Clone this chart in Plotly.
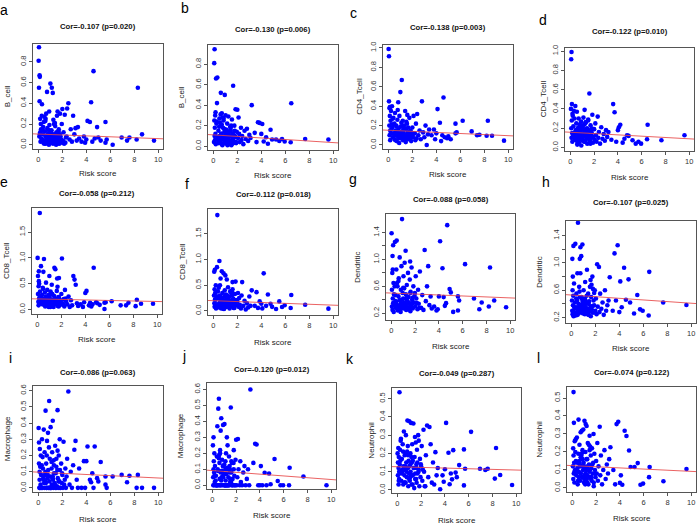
import plotly.graph_objects as go

W, H = 697, 524

# ---------------- data ----------------
# risk scores, training cohort (panels a, c, e, g, i, k)
risk_train = [
    0.02, 0.05, 0.05, 0.08, 0.1, 0.1, 0.12, 0.15, 0.15, 0.18, 0.2, 0.22,
    0.3, 0.33, 0.38, 0.42, 0.45, 0.5, 0.52, 0.55, 0.6, 0.62, 0.65, 0.7, 0.72, 0.75, 0.8, 0.82, 0.85, 0.9, 0.92, 0.95, 0.98,
    1.0, 1.02, 1.05, 1.1, 1.12, 1.15, 1.2, 1.22, 1.25, 1.3, 1.35, 1.4, 1.42, 1.45, 1.5, 1.55, 1.6, 1.62, 1.65, 1.7, 1.75, 1.8, 1.85, 1.9, 1.95,
    2.0, 2.05, 2.1, 2.2, 2.25, 2.3, 2.4, 2.5, 2.6, 2.7, 2.8, 2.9, 3.0, 3.1, 3.2, 3.3, 3.4,
    3.6, 3.8, 3.9, 4.0, 4.1, 4.3, 4.4, 4.5, 4.6, 4.7, 4.9, 5.0, 5.2, 5.6, 5.6, 5.7, 6.2, 6.95, 7.4, 7.6, 8.2, 8.3, 8.65, 9.65,
    0.4, 0.7, 1.0, 1.3, 1.5, 1.8, 0.6, 1.1, 0.9, 1.2, 1.6,
    0.25, 0.35, 0.48, 0.58, 0.68, 0.78, 0.88, 1.08, 1.18, 1.28, 1.38, 1.48, 1.58, 1.68, 1.78, 0.12, 0.28, 2.15, 2.35, 1.98,
]
# risk scores, validation cohort (panels b, d, f, h, j, l)
risk_test = [
    0.05, 0.07, 0.08, 0.1, 0.1, 0.12, 0.13, 0.15, 0.17, 0.2, 0.22, 0.25,
    0.3, 0.33, 0.38, 0.42, 0.45, 0.5, 0.52, 0.55, 0.6, 0.62, 0.65, 0.7, 0.72, 0.75, 0.8, 0.82, 0.85, 0.9, 0.92, 0.95, 0.98,
    1.0, 1.02, 1.05, 1.1, 1.12, 1.15, 1.2, 1.22, 1.25, 1.3, 1.35, 1.4, 1.42, 1.45, 1.5, 1.55, 1.6, 1.62, 1.65, 1.7, 1.75, 1.8, 1.85, 1.9, 1.95,
    2.0, 2.05, 2.1, 2.15, 2.2, 2.3, 2.35, 2.4, 2.5, 2.6, 2.7, 2.8, 2.9, 3.0, 3.1,
    3.2, 3.45, 3.6, 3.72, 3.86, 4.0, 4.08, 4.2, 4.4, 4.55, 4.77, 4.9, 5.23, 5.5, 5.73, 5.95, 6.45, 6.5, 7.66, 9.6,
    0.4, 0.7, 1.0, 1.3, 1.5, 1.8, 0.6, 1.1, 0.9, 1.2, 1.6, 0.28, 0.35, 0.48, 0.58, 0.68, 0.78, 0.88, 1.08, 1.18, 1.28,
    1.38, 1.48, 1.58, 1.68, 1.78, 0.18, 0.4, 0.55, 0.75, 1.05, 1.25, 1.45, 1.9, 0.65, 0.85, 1.15,
]

b_cell_train = [
    0.81, 0.94, 0.55, 0.08, 0.67, 0.42, 0.655, 0.25, 0.12, 0.03, 0.2, 0.15,
    0.39, 0.05, 0.1, 0.02, 0.22, 0.27, 0.04, 0.13, 0.08, 0.01, 0.3, 0.06, 0.51, 0.16, 0.02, 0.11, 0.05, 0.32, 0.19, 0.07, 0.03,
    0.59, 0.09, 0.02, 0.14, 0.55, 0.05, 0.5, 0.01, 0.24, 0.1, 0.04, 0.18, 0.07, 0.02, 0.12, 0.28, 0.32, 0.06, 0.03, 0.15, 0.01, 0.3, 0.08, 0.05, 0.2,
    0.345, 0.04, 0.12, 0.29, 0.02, 0.07, 0.35, 0.4, 0.05, 0.15, 0.03, 0.28, 0.1, 0.16, 0.04, 0.17, 0.06,
    0.03, 0.08, 0.02, 0.05, 0.23, 0.22, 0.41, 0.03, 0.71, 0.06, 0.17, 0.07, 0.04, 0.22, 0.02, 0.05, 0.0, 0.07, 0.04, 0.07, 0.05, 0.55, 0.1, 0.04,
    0.17, 0.09, 0.04, 0.2, 0.03, 0.1, 0.25, 0.02, 0.14, 0.07, 0.01,
    0.06, 0.14, 0.01, 0.23, 0.04, 0.09, 0.0, 0.11, 0.03, 0.06, 0.21, 0.0, 0.09, 0.13, 0.04, 0.1, 0.28, 0.01, 0.08, 0.02,
]
b_cell_test = [
    0.04, 0.81, 0.25, 0.1, 0.946, 0.18, 0.06, 0.3, 0.12, 0.02, 0.66, 0.22,
    0.42, 0.67, 0.08, 0.15, 0.03, 0.27, 0.1, 0.05, 0.2, 0.52, 0.12, 0.32, 0.07, 0.01, 0.18, 0.09, 0.25, 0.04, 0.14, 0.5, 0.06,
    0.11, 0.3, 0.03, 0.16, 0.08, 0.22, 0.02, 0.13, 0.29, 0.06, 0.1, 0.19, 0.04, 0.15, 0.01, 0.26, 0.07, 0.12, 0.59, 0.05, 0.2, 0.09, 0.36, 0.03, 0.14,
    0.356, 0.08, 0.28, 0.12, 0.04, 0.18, 0.06, 0.1, 0.02, 0.15, 0.07, 0.17, 0.05, 0.11, 0.08,
    0.4, 0.13, 0.04, 0.233, 0.227, 0.12, 0.217, 0.045, 0.087, 0.023, 0.16, 0.065, 0.065, 0.05, 0.07, 0.045, 0.039, 0.418, 0.07, 0.065,
    0.09, 0.21, 0.05, 0.14, 0.02, 0.1, 0.31, 0.07, 0.17, 0.04, 0.12, 0.24, 0.06, 0.19, 0.03, 0.11, 0.28, 0.08, 0.16, 0.01,
    0.13, 0.05, 0.2, 0.09, 0.03, 0.15, 0.33, 0.07, 0.23, 0.02, 0.1, 0.06, 0.18, 0.04, 0.12, 0.27, 0.08,
]
cd4_train = [
    0.99, 0.915, 0.45, 0.2, 0.38, 0.1, 0.3, 0.15, 0.05, 0.25, 0.12, 0.35,
    0.4, 0.18, 0.08, 0.28, 0.12, 0.22, 0.06, 0.33, 0.15, 0.1, 0.2, 0.04, 0.14, 0.26, 0.09, 0.44, 0.17, 0.11, 0.3, 0.07, 0.13,
    0.545, 0.1, 0.19, 0.07, 0.67, 0.14, 0.25, 0.05, 0.12, 0.2, 0.09, 0.35, 0.16, 0.03, 0.11, 0.22, 0.08, 0.13, 0.18, 0.06, 0.28, 0.1, 0.15, 0.04, 0.12,
    0.18, 0.08, 0.3, 0.12, 0.05, 0.22, 0.32, 0.1, 0.15, 0.06, 0.45, 0.13, 0.08, 0.2, 0.0, 0.11, 0.16,
    0.1, 0.16, 0.06, 0.12, 0.37, 0.23, 0.04, 0.1, 0.49, 0.08, 0.07, 0.09, 0.06, 0.22, 0.12, 0.13, 0.25, 0.14, 0.1, 0.105, 0.095, 0.25, 0.095, 0.045,
    0.21, 0.13, 0.09, 0.17, 0.24, 0.07, 0.11, 0.19, 0.02, 0.14, 0.1,
    0.16, 0.27, 0.11, 0.05, 0.19, 0.36, 0.08, 0.23, 0.13, 0.1, 0.06, 0.17, 0.31, 0.09, 0.14, 0.39, 0.21, 0.12, 0.07, 0.1,
]
cd4_test = [
    0.4, 0.915, 0.2, 0.99, 0.1, 0.28, 0.45, 0.15, 0.06, 0.33, 0.12, 0.22,
    0.38, 0.14, 0.08, 0.43, 0.18, 0.25, 0.11, 0.37, 0.07, 0.2, 0.13, 0.3, 0.05, 0.16, 0.24, 0.09, 0.12, 0.27, 0.02, 0.19, 0.1,
    0.14, 0.22, 0.08, 0.31, 0.12, 0.18, 0.39, 0.06, 0.15, 0.26, 0.1, 0.2, 0.04, 0.13, 0.29, 0.09, 0.56, 0.17, 0.07, 0.23, 0.12, 0.15, 0.34, 0.05, 0.11,
    0.19, 0.08, 0.25, 0.13, 0.06, 0.32, 0.1, 0.16, 0.04, 0.21, 0.09, 0.14, 0.07, 0.18, 0.11,
    0.16, 0.08, 0.45, 0.366, 0.06, 0.18, 0.21, 0.236, 0.05, 0.09, 0.127, 0.12, 0.075, 0.04, 0.06, 0.04, 0.085, 0.236, 0.075, 0.127,
    0.13, 0.21, 0.07, 0.16, 0.28, 0.1, 0.05, 0.19, 0.12, 0.24, 0.08, 0.15, 0.3, 0.11, 0.03, 0.17, 0.09, 0.22, 0.14, 0.06,
    0.26, 0.1, 0.18, 0.12, 0.04, 0.2, 0.35, 0.08, 0.15, 0.11, 0.23, 0.07, 0.13, 0.19, 0.09, 0.16, 0.12,
]
cd8_train = [
    1.0, 0.3, 0.65, 0.15, 0.45, 0.08, 0.74, 0.22, 0.5, 0.12, 1.87, 0.35,
    0.84, 0.18, 0.28, 0.1, 0.42, 0.73, 0.2, 0.98, 0.14, 0.33, 0.06, 0.25, 0.52, 0.16, 0.09, 0.38, 0.21, 0.12, 0.28, 0.05, 0.17,
    0.65, 0.22, 0.1, 0.35, 0.15, 0.08, 0.48, 0.19, 0.3, 0.12, 0.05, 0.26, 0.81, 0.14, 0.78, 0.2, 0.1, 0.36, 0.6, 0.07, 0.24, 0.61, 0.15, 0.09, 0.18,
    0.3, 0.99, 0.12, 0.2, 0.06, 0.38, 0.15, 0.1, 0.25, 0.05, 0.18, 0.08, 0.65, 0.58, 0.48, 0.12, 0.07,
    0.1, 0.05, 0.14, 0.32, 0.36, 0.08, 0.13, 0.06, 0.1, 0.81, 0.14, 0.12, 0.09, 0.13, 0.01, 0.14, 0.16, 0.08, 0.08, 0.13, 0.065, 0.19, 0.11, 0.11,
    0.2, 0.13, 0.27, 0.09, 0.16, 0.23, 0.11, 0.31, 0.07, 0.19, 0.14,
    0.25, 0.11, 0.4, 0.17, 0.08, 0.22, 0.14, 0.05, 0.29, 0.16, 0.1, 0.2, 0.13, 0.44, 0.06, 0.55, 0.18, 0.09, 0.21, 0.12,
]
cd8_test = [
    0.3, 0.76, 0.15, 0.42, 0.08, 0.8, 0.22, 0.35, 0.12, 0.5, 0.05, 0.28,
    0.85, 1.86, 0.38, 0.1, 0.45, 0.97, 0.16, 0.3, 0.63, 0.08, 0.24, 0.77, 0.14, 0.35, 0.05, 0.2, 0.73, 0.12, 0.28, 0.4, 0.1,
    0.69, 0.18, 0.32, 0.08, 0.61, 0.22, 0.14, 0.46, 0.1, 0.27, 0.05, 0.38, 0.16, 0.2, 0.12, 0.3, 0.56, 0.09, 0.24, 0.15, 0.06, 0.33, 0.57, 0.11, 0.2,
    0.18, 0.35, 0.08, 0.25, 0.12, 0.05, 0.3, 0.56, 0.1, 0.2, 0.03, 0.15, 0.07, 0.28, 0.1,
    0.4, 0.1, 0.365, 0.06, 0.186, 0.14, 0.05, 0.73, 0.1, 0.32, 0.14, 0.08, 0.04, 0.186, 0.077, 0.11, 0.058, 0.31, 0.12, 0.045,
    0.25, 0.12, 0.2, 0.08, 0.34, 0.16, 0.1, 0.22, 0.05, 0.18, 0.42, 0.13, 0.28, 0.07, 0.19, 0.11, 0.25, 0.04, 0.16, 0.3,
    0.09, 0.2, 0.14, 0.36, 0.06, 0.18, 0.22, 0.12, 0.5, 0.08, 0.15, 0.27, 0.1, 0.21, 0.05, 0.17, 0.13,
]
dendritic_train = [
    1.39, 0.55, 0.3, 0.8, 0.25, 1.05, 0.42, 1.21, 0.35, 0.65, 0.22, 0.48,
    1.26, 0.38, 0.28, 0.85, 1.28, 0.32, 0.6, 0.24, 0.45, 0.72, 0.3, 1.03, 0.4, 0.26, 0.55, 0.35, 0.9, 1.6, 0.28, 0.5, 0.33,
    0.42, 0.75, 0.27, 0.36, 0.95, 0.3, 1.13, 0.48, 0.25, 0.62, 0.38, 0.8, 0.29, 0.44, 0.34, 0.7, 0.23, 0.52, 0.31, 0.88, 0.4, 0.27, 0.6, 0.36, 0.46,
    0.3, 0.75, 0.42, 0.26, 0.55, 0.34, 0.82, 0.28, 0.47, 0.25, 1.14, 0.38, 0.6, 0.9, 0.32, 0.45, 0.27,
    0.3, 0.24, 0.26, 0.45, 1.27, 0.87, 0.44, 0.31, 0.35, 1.51, 0.56, 0.51, 0.22, 0.45, 0.24, 0.39, 0.93, 0.42, 0.26, 0.36, 0.3, 0.88, 0.39, 0.29,
    0.37, 0.31, 0.58, 0.43, 0.26, 0.35, 0.68, 0.29, 0.4, 0.33, 0.5,
    0.33, 0.47, 0.65, 0.29, 0.39, 0.22, 0.34, 0.57, 0.32, 0.41, 0.28, 0.36, 0.97, 0.3, 0.43, 0.85, 0.6, 0.35, 0.28, 0.5,
]
dendritic_test = [
    0.45, 0.3, 1.06, 0.6, 0.25, 0.8, 0.38, 0.52, 1.25, 0.28, 0.7, 0.35,
    0.42, 1.28, 0.27, 0.55, 0.33, 0.85, 0.24, 1.59, 0.4, 0.3, 0.65, 1.06, 0.36, 1.23, 0.28, 1.1, 0.5, 0.32, 1.27, 0.44, 0.26,
    0.38, 0.6, 0.3, 0.48, 0.25, 0.72, 0.35, 0.42, 0.28, 0.9, 0.33, 0.55, 0.24, 0.4, 0.3, 0.65, 0.36, 0.22, 0.5, 0.32, 0.8, 0.27, 0.45, 0.38, 0.6,
    0.3, 0.48, 0.25, 0.98, 0.36, 0.94, 0.28, 0.55, 0.33, 0.42, 0.24, 0.6, 0.3, 0.38, 0.45,
    0.79, 0.3, 1.14, 0.45, 1.26, 0.28, 0.73, 0.35, 0.93, 0.46, 0.76, 0.42, 0.26, 0.53, 0.32, 0.3, 0.23, 0.87, 0.42, 0.385,
    0.35, 0.5, 0.28, 0.42, 0.32, 0.62, 0.26, 0.38, 0.47, 0.3, 0.75, 0.34, 0.23, 0.45, 0.29, 0.58, 0.36, 0.27, 0.4, 0.33,
    0.52, 0.25, 0.44, 0.31, 0.68, 0.37, 0.22, 0.48, 0.3, 0.85, 0.35, 0.41, 0.27, 0.56, 0.32, 0.39, 0.46,
]
macrophage_train = [
    0.37, 0.15, 0.28, 0.0, 0.1, 0.05, 0.24, 0.0, 0.13, 0.02, 0.2, 0.08,
    0.3, 0.0, 0.12, 0.05, 0.36, 0.0, 0.22, 0.08, 0.477, 0.03, 0.15, 0.0, 0.29, 0.06, 0.34, 0.11, 0.0, 0.537, 0.04, 0.18, 0.0,
    0.07, 0.375, 0.0, 0.12, 0.02, 0.22, 0.415, 0.05, 0.0, 0.14, 0.03, 0.26, 0.0, 0.09, 0.18, 0.01, 0.48, 0.06, 0.0, 0.2, 0.04, 0.11, 0.0, 0.15, 0.03,
    0.08, 0.0, 0.285, 0.05, 0.12, 0.0, 0.18, 0.595, 0.02, 0.1, 0.0, 0.14, 0.235, 0.29, 0.05, 0.0, 0.12,
    0.0, 0.165, 0.0, 0.165, 0.256, 0.05, 0.035, 0.09, 0.0, 0.256, 0.06, 0.04, 0.16, 0.07, 0.02, 0.0, 0.07, 0.08, 0.035, 0.075, 0.0, 0.08, 0.0, 0.0,
    0.06, 0.2, 0.0, 0.09, 0.13, 0.0, 0.04, 0.16, 0.0, 0.07, 0.23,
    0.0, 0.19, 0.03, 0.1, 0.0, 0.08, 0.25, 0.0, 0.06, 0.17, 0.02, 0.0, 0.11, 0.04, 0.3, 0.0, 0.14, 0.02, 0.07, 0.09,
]
macrophage_test = [
    0.25, 0.05, 0.0, 0.3, 0.1, 0.15, 0.0, 0.08, 0.2, 0.02, 0.12, 0.0,
    0.06, 0.0, 0.18, 0.37, 0.1, 0.48, 0.0, 0.542, 0.14, 0.04, 0.22, 0.342, 0.0, 0.42, 0.09, 0.16, 0.0, 0.377, 0.05, 0.12, 0.0,
    0.07, 0.383, 0.0, 0.15, 0.03, 0.2, 0.0, 0.3, 0.1, 0.0, 0.05, 0.18, 0.0, 0.12, 0.02, 0.487, 0.08, 0.0, 0.14, 0.04, 0.0, 0.1, 0.06, 0.0, 0.16,
    0.285, 0.0, 0.05, 0.29, 0.1, 0.0, 0.15, 0.02, 0.0, 0.08, 0.12, 0.0, 0.04, 0.1, 0.0,
    0.6, 0.14, 0.26, 0.255, 0.0, 0.0, 0.12, 0.0, 0.078, 0.0, 0.074, 0.006, 0.165, 0.027, 0.0, 0.0, 0.0, 0.11, 0.055, 0.0,
    0.0, 0.08, 0.13, 0.0, 0.04, 0.22, 0.0, 0.1, 0.06, 0.0, 0.15, 0.03, 0.0, 0.09, 0.19, 0.0, 0.05, 0.12, 0.0, 0.07,
    0.25, 0.0, 0.1, 0.02, 0.0, 0.14, 0.06, 0.0, 0.17, 0.03, 0.0, 0.11, 0.08, 0.0, 0.2, 0.05, 0.0,
]
neutrophil_train = [
    0.2, 0.08, 0.15, 0.23, 0.03, 0.12, 0.18, 0.06, 0.1, 0.535, 0.14, 0.22,
    0.28, 0.05, 0.17, 0.1, 0.25, 0.03, 0.13, 0.32, 0.08, 0.19, 0.11, 0.04, 0.3, 0.15, 0.07, 0.21, 0.38, 0.12, 0.02, 0.16, 0.09,
    0.376, 0.13, 0.05, 0.2, 0.1, 0.367, 0.03, 0.15, 0.25, 0.08, 0.364, 0.12, 0.01, 0.18, 0.06, 0.26, 0.14, 0.04, 0.22, 0.09, 0.3, 0.11, 0.02, 0.17, 0.07,
    0.13, 0.24, 0.05, 0.33, 0.1, 0.02, 0.19, 0.353, 0.07, 0.345, 0.25, 0.04, 0.15, 0.03, 0.207, 0.08, 0.12,
    0.004, 0.08, 0.045, 0.113, 0.367, 0.204, 0.031, 0.09, 0.058, 0.218, 0.095, 0.07, 0.136, 0.222, 0.025, 0.116, 0.318, 0.116, 0.109, 0.116, 0.062, 0.23, 0.082, 0.027,
    0.11, 0.2, 0.06, 0.16, 0.09, 0.27, 0.04, 0.14, 0.19, 0.08, 0.12,
    0.16, 0.09, 0.21, 0.04, 0.13, 0.1, 0.24, 0.07, 0.18, 0.03, 0.12, 0.29, 0.06, 0.15, 0.1, 0.05, 0.27, 0.11, 0.02, 0.14,
]
neutrophil_test = [
    0.12, 0.22, 0.05, 0.18, 0.533, 0.08, 0.362, 0.14, 0.03, 0.26, 0.1, 0.2,
    0.15, 0.07, 0.28, 0.11, 0.02, 0.19, 0.38, 0.09, 0.24, 0.13, 0.04, 0.31, 0.08, 0.17, 0.318, 0.06, 0.21, 0.1, 0.325, 0.14, 0.03,
    0.12, 0.373, 0.07, 0.2, 0.355, 0.1, 0.344, 0.05, 0.16, 0.25, 0.02, 0.13, 0.09, 0.29, 0.06, 0.18, 0.11, 0.04, 0.22, 0.08, 0.14, 0.01, 0.19, 0.1, 0.06,
    0.15, 0.08, 0.25, 0.04, 0.12, 0.34, 0.07, 0.18, 0.02, 0.1, 0.21, 0.05, 0.13, 0.08, 0.16,
    0.226, 0.1, 0.02, 0.355, 0.368, 0.028, 0.07, 0.018, 0.318, 0.289, 0.208, 0.116, 0.116, 0.138, 0.018, 0.024, 0.06, 0.116, 0.037, 0.105,
    0.09, 0.17, 0.05, 0.12, 0.23, 0.03, 0.14, 0.08, 0.2, 0.11, 0.06, 0.27, 0.1, 0.04, 0.15, 0.08, 0.19, 0.12, 0.02, 0.16,
    0.07, 0.24, 0.1, 0.05, 0.13, 0.3, 0.09, 0.14, 0.06, 0.18, 0.11, 0.03, 0.21, 0.08, 0.12, 0.16, 0.07,
]

panel_letters = ["a", "b", "c", "d", "e", "f", "g", "h", "i", "j", "k", "l"]
cell_labels = ["B_cell", "B_cell", "CD4_Tcell", "CD4_Tcell", "CD8_Tcell", "CD8_Tcell",
               "Dendritic", "Dendritic", "Macrophage", "Macrophage", "Neutrophil", "Neutrophil"]
cor_values = ["-0.107", "-0.130", "-0.138", "-0.122", "-0.058", "-0.112",
              "-0.088", "-0.107", "-0.086", "-0.120", "-0.049", "-0.074"]
p_values = ["0.020", "0.006", "0.003", "0.010", "0.212", "0.018",
            "0.058", "0.025", "0.063", "0.012", "0.287", "0.122"]
# regression line (intercept, slope)
fit_intercept = [0.103, 0.11, 0.152, 0.158, 0.205, 0.2, 0.50, 0.53, 0.097, 0.092, 0.127, 0.124]
fit_slope = [-0.0044, -0.0075, -0.0056, -0.0068, -0.005, -0.0087, -0.0072, -0.012, -0.0036, -0.0056, -0.0018, -0.0032]
x_ticks = [0, 2, 4, 6, 8, 10]

xs_all = [risk_train, risk_test] * 6
ys_all = [b_cell_train, b_cell_test, cd4_train, cd4_test, cd8_train, cd8_test,
          dendritic_train, dendritic_test, macrophage_train, macrophage_test,
          neutrophil_train, neutrophil_test]

# ---------------- layout (pixel geometry) ----------------
boxes = [  # left, right, top, bottom in pixels
    (33, 163, 41, 147), (208, 338, 42, 148), (383, 513, 42, 147), (565, 694, 45, 149),
    (32, 162, 207, 313), (208, 338, 208, 314), (386, 515, 213, 319), (566, 696, 220, 322),
    (33, 163, 386, 493), (207, 336, 383, 490), (392, 521, 388, 494), (567, 696, 387, 493),
]
yranges = [(-0.04, 0.975), (-0.036, 0.99), (-0.04, 1.034), (-0.035, 1.035),
           (-0.08, 1.96), (-0.07, 1.97), (0.106, 1.67), (0.127, 1.61),
           (-0.027, 0.629), (-0.025, 0.64), (-0.018, 0.558), (-0.024, 0.561)]
tick_sets = {
    "b": ([0, 0.2, 0.4, 0.6, 0.8], ["0.0", "0.2", "0.4", "0.6", "0.8"]),
    "c": ([0, 0.2, 0.4, 0.6, 0.8, 1.0], ["0.0", "0.2", "0.4", "0.6", "0.8", "1.0"]),
    "e": ([0, 0.5, 1.0, 1.5], ["0.0", "0.5", "1.0", "1.5"]),
    "g": ([0.2, 0.4, 0.6, 0.8, 1.0, 1.2, 1.4], ["0.2", "", "0.6", "", "1.0", "", "1.4"]),
    "i": ([0, 0.1, 0.2, 0.3, 0.4, 0.5, 0.6], ["0.0", "0.1", "0.2", "0.3", "0.4", "0.5", "0.6"]),
    "k": ([0, 0.1, 0.2, 0.3, 0.4, 0.5], ["0.0", "0.1", "0.2", "0.3", "0.4", "0.5"]),
}
tick_keys = ["b", "b", "c", "c", "e", "e", "g", "g", "i", "i", "k", "k"]
title_y = [24, 27, 25, 29, 192, 193, 198, 201, 372, 369, 373, 372]
xlabel_y = [172, 174, 173, 176, 339, 342, 346, 348, 520, 516, 521, 519]
ylabel_x = [7, 181, 360, 543, 6, 182, 358, 540, 7, 180, 372, 540]
letter_pos = [(4, 7.5), (185.5, 5.5), (353, 10.5), (543, 17.5), (4, 180.5), (187.5, 182.5),
              (353, 177.5), (545.5, 180.5), (10, 357.5), (184, 355.5), (350, 358.5), (538, 357.5)]
XRANGE = (-0.45, 10.4)

FONT = "Liberation Sans, Arial, Helvetica, sans-serif"
fig = go.Figure()
annotations = []


def px(x):
    return x / W


def py(y):
    return 1 - y / H


for i in range(12):
    n = min(len(xs_all[i]), len(ys_all[i]))
    ax = "" if i == 0 else str(i + 1)
    fig.add_trace(go.Scatter(
        x=xs_all[i][:n], y=ys_all[i][:n], mode="markers",
        marker=dict(color="#0000FF", size=4.6, line=dict(width=0)),
        xaxis="x" + ax, yaxis="y" + ax, hoverinfo="skip", cliponaxis=False))
    x0, x1 = XRANGE
    fig.add_trace(go.Scatter(
        x=[x0, x1], y=[fit_intercept[i] + fit_slope[i] * x0, fit_intercept[i] + fit_slope[i] * x1],
        mode="lines", line=dict(color="rgba(230,70,70,0.85)", width=1),
        xaxis="x" + ax, yaxis="y" + ax, hoverinfo="skip"))

    l, r, t, b = boxes[i]
    tv, tt = tick_sets[tick_keys[i]]
    common = dict(showline=True, mirror=True, linecolor="#555", linewidth=1,
                  ticks="outside", ticklen=3, tickcolor="#555", tickwidth=1,
                  showgrid=False, zeroline=False,
                  tickfont=dict(family=FONT, size=7.5, color="#333"))
    fig.layout["xaxis" + ax] = dict(domain=[px(l), px(r)], range=list(XRANGE),
                                    anchor="y" + ax, tickvals=x_ticks,
                                    ticktext=[str(v) for v in x_ticks], **common)
    fig.layout["yaxis" + ax] = dict(domain=[py(b), py(t)], range=list(yranges[i]),
                                    anchor="x" + ax, tickvals=tv, ticktext=tt,
                                    tickangle=-90, **common)

    cx = (l + r) / 2
    annotations.append(dict(text="<b>Cor=%s (p=%s)</b>" % (cor_values[i], p_values[i]),
                            x=px(cx), y=py(title_y[i]), xref="paper", yref="paper",
                            showarrow=False, xanchor="center", yanchor="middle",
                            font=dict(family=FONT, size=7.7, color="#111")))
    annotations.append(dict(text="Risk score", x=px(cx), y=py(xlabel_y[i]),
                            xref="paper", yref="paper", showarrow=False,
                            xanchor="center", yanchor="middle",
                            font=dict(family=FONT, size=8, color="#222")))
    annotations.append(dict(text=cell_labels[i], x=px(ylabel_x[i]), y=py((t + b) / 2),
                            xref="paper", yref="paper", showarrow=False, textangle=-90,
                            xanchor="center", yanchor="middle",
                            font=dict(family=FONT, size=8, color="#222")))
    lx, ly = letter_pos[i]
    annotations.append(dict(text=panel_letters[i], x=px(lx), y=py(ly),
                            xref="paper", yref="paper", showarrow=False,
                            xanchor="center", yanchor="middle",
                            font=dict(family=FONT, size=14, color="#000")))

fig.update_layout(width=W, height=H, margin=dict(l=0, r=0, t=0, b=0),
                  paper_bgcolor="white", plot_bgcolor="white", showlegend=False,
                  annotations=annotations, hovermode=False)
fig.write_html("out.html", config={"displayModeBar": False})

# remove the browser's default page margin so the figure sits at (0, 0)
with open("out.html", "r", encoding="utf-8") as fh:
    html = fh.read()
html = html.replace("<head>", "<head><style>html,body{margin:0;padding:0;overflow:hidden;}</style>", 1)
with open("out.html", "w", encoding="utf-8") as fh:
    fh.write(html)
